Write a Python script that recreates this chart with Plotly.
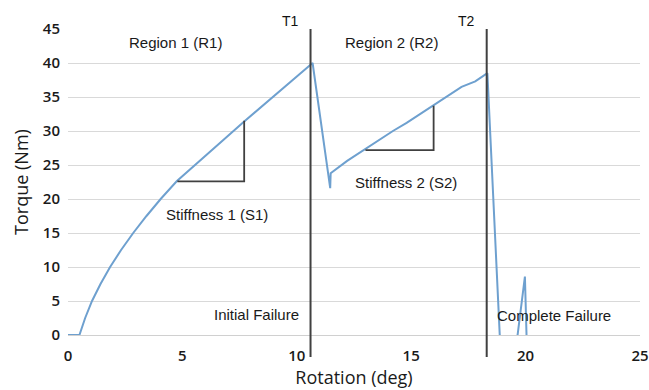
import plotly.graph_objects as go

# Data
rotation = [0, 0.5, 0.75, 1.05, 1.42, 1.84, 2.32, 2.85, 3.43, 4.05, 4.75, 5.8, 6.8, 7.7, 8.7, 9.7,
            10.69, 11.46, 11.48, 12.2, 13.0, 13.7, 14.2, 14.8, 15.4, 15.95, 16.6, 17.2, 17.8, 18.33,
            18.87, 19.2, 19.65, 19.97, 20.04, 20.2]
torque = [0, 0, 2.5, 5, 7.5, 10, 12.5, 15, 17.5, 20, 22.6, 25.8, 28.7, 31.4, 34.3, 37.1,
          40.0, 21.6, 23.8, 25.6, 27.4, 28.9, 30.0, 31.2, 32.5, 33.8, 35.2, 36.5, 37.3, 38.5,
          0, -2, 0, 8.6, 0, -2]

threshold_x = [10.6, 18.3]
threshold_labels = ["T1", "T2"]

s1_x = [4.78, 7.7, 7.7]
s1_y = [22.6, 22.6, 31.5]
s2_x = [13.0, 15.98, 15.98]
s2_y = [27.2, 27.2, 33.7]

x_ticks = [0, 5, 10, 15, 20, 25]
y_ticks = [0, 5, 10, 15, 20, 25, 30, 35, 40, 45]

curve_color = "#6ea0cf"
dark = "#404040"

fig = go.Figure()
fig.add_trace(go.Scatter(x=rotation, y=torque, mode="lines",
                         line=dict(color=curve_color, width=2), showlegend=False, hoverinfo="skip"))
fig.add_trace(go.Scatter(x=s1_x, y=s1_y, mode="lines",
                         line=dict(color=dark, width=1.8), showlegend=False, hoverinfo="skip"))
fig.add_trace(go.Scatter(x=s2_x, y=s2_y, mode="lines",
                         line=dict(color=dark, width=1.8), showlegend=False, hoverinfo="skip"))

for tx, tl in zip(threshold_x, threshold_labels):
    fig.add_shape(type="line", xref="x", yref="paper", x0=tx, x1=tx, y0=-0.072, y1=1.0,
                  line=dict(color=dark, width=2))
    fig.add_annotation(x=tx, y=1.0, xref="x", yref="paper", text=tl, showarrow=False,
                       xanchor="right", yanchor="bottom", xshift=-10, yshift=-2,
                       font=dict(family="Liberation Sans, Arial", size=14, color="#111"))

ann_font = dict(family="Liberation Sans, Arial", size=15, color="#1a1a1a")
texts = [
    ("Region 1 (R1)", 4.68, 43.0),
    ("Region 2 (R2)", 14.16, 43.0),
    ("Stiffness 1 (S1)", 6.51, 17.7),
    ("Stiffness 2 (S2)", 14.77, 22.5),
    ("Initial Failure", 8.26, 2.95),
    ("Complete Failure", 21.24, 2.8),
]
for t, x, y in texts:
    fig.add_annotation(x=x, y=y, text=t, showarrow=False, font=ann_font,
                       xanchor="center", yanchor="middle")

fig.update_layout(
    width=649, height=390,
    margin=dict(l=68, r=9, t=29, b=55),
    plot_bgcolor="white", paper_bgcolor="white",
    font=dict(family="Open Sans", color="#222"),
)
fig.update_xaxes(range=[0, 25], tickvals=x_ticks, showgrid=False, zeroline=False,
                 showline=False, ticks="", ticklabelstandoff=10, automargin=False,
                 tickfont=dict(family="Open Sans", size=15, color="#1a1a1a", weight=600),
                 title=dict(text="Rotation (deg)", standoff=2,
                            font=dict(family="Open Sans", size=18, color="#1a1a1a")))
fig.update_yaxes(range=[0, 45], tickvals=y_ticks, showgrid=True, gridcolor="#d9d9d9", gridwidth=1,
                 zeroline=True, zerolinecolor="#d0d0d0", zerolinewidth=1,
                 showline=False, ticks="", ticklabelstandoff=7, automargin=False,
                 tickfont=dict(family="Open Sans", size=15, color="#1a1a1a", weight=600),
                 title=dict(text="Torque (Nm)", standoff=9,
                            font=dict(family="Open Sans", size=18, color="#1a1a1a")))

fig.write_html("out.html")
